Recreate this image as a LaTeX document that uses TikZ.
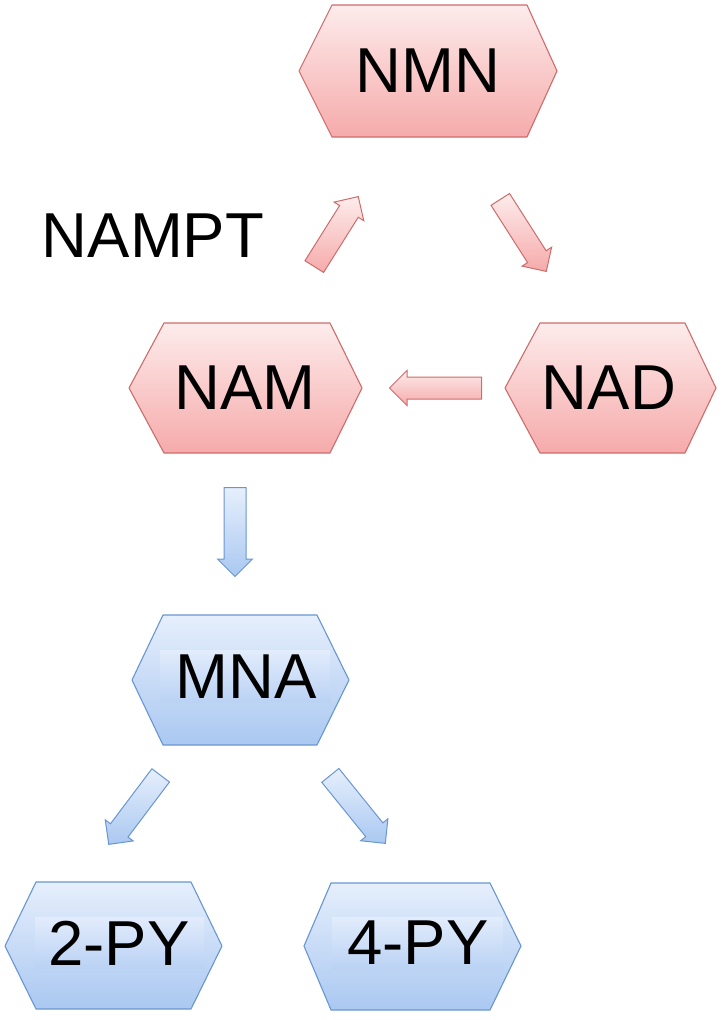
\documentclass[tikz,border=0pt]{standalone}
\usepackage{fontspec}
\setmainfont{Liberation Sans}
\usetikzlibrary{shapes.arrows,calc}
\definecolor{pinkTop}{RGB}{253,236,236}
\definecolor{pinkBot}{RGB}{246,170,170}
\definecolor{pinkLine}{RGB}{205,108,108}
\definecolor{blueTop}{RGB}{230,239,252}
\definecolor{blueBot}{RGB}{170,200,241}
\definecolor{blueLine}{RGB}{105,150,210}
\definecolor{rectTop}{RGB}{226,236,252}
\definecolor{rectBot}{RGB}{186,210,244}
\newcommand{\blockarr}[4]{%
  \path let \p1=(#1), \p2=(#2),
    \n1={atan2(\y2-\y1,\x2-\x1)},
    \n2={veclen(\x2-\x1,\y2-\y1)} in
    node[#3, minimum height=\n2, rotate=\n1, anchor=tail] (#4) at (#1) {};}
\tikzset{
  hexpink/.style={draw=pinkLine, line width=1.1pt, line join=round,
    top color=pinkTop, bottom color=pinkBot},
  hexblue/.style={draw=blueLine, line width=1.1pt, line join=round,
    top color=blueTop, bottom color=blueBot},
  lbl/.style={font=\fontsize{63.5}{70}\selectfont, inner sep=0pt, text=black},
  blkarrow/.style={single arrow, inner xsep=0pt, inner ysep=10.5pt,
    single arrow head extend=6.5pt, single arrow tip angle=90,
    line width=1pt, line join=miter},
  arrpink/.style={blkarrow, draw=pinkLine, top color=pinkTop, bottom color=pinkBot},
  arrblue/.style={blkarrow, draw=blueLine, top color=blueTop, bottom color=blueBot},
  txtrect/.style={top color=rectTop, bottom color=rectBot}
}
\begin{document}
\begin{tikzpicture}[x=1pt, y=-1pt]
\useasboundingbox (0,0) rectangle (722,1020);
% hexagons
\draw[hexpink] (299,71) -- (332,5) -- (527,5) -- (557,71) -- (527,137) -- (332,137) -- cycle;
\draw[hexpink] (129,388) -- (164,323) -- (330,323) -- (362,388) -- (330,453) -- (164,453) -- cycle;
\draw[hexpink] (505,388) -- (540,323) -- (685,323) -- (716,388) -- (685,453) -- (540,453) -- cycle;
\draw[hexblue] (132,680) -- (163,615) -- (317,615) -- (349,680) -- (317,745) -- (163,745) -- cycle;
\draw[hexblue] (5,946) -- (36,882) -- (191,882) -- (222,946) -- (191,1009) -- (36,1009) -- cycle;
\draw[hexblue] (304,946) -- (331,883) -- (490,883) -- (521,946) -- (490,1010) -- (331,1010) -- cycle;
% faint text boxes in blue hexagons
\path[txtrect] (160,650) rectangle (330,702);
\path[txtrect] (35,917) rectangle (204,968);
\path[txtrect] (332,917) rectangle (503,969);
% labels
\node[lbl] (nmn) at (428,71) {NMN};
\node[lbl] (nam) at (245,388) {NAM};
\node[lbl] (nad) at (609,388) {NAD};
\node[lbl] (mna) at (246,677) {MNA};
\node[lbl] (py2) at (119,943) {2-PY};
\node[lbl] (py4) at (418,943) {4-PY};
\node[lbl] (nampt) at (153,236) {NAMPT};
% arrow end points
\coordinate (a1s) at (314,267); \coordinate (a1e) at (358,197);
\coordinate (a2s) at (500,199); \coordinate (a2e) at (546,271);
\coordinate (a3s) at (482,388); \coordinate (a3e) at (390,388);
\coordinate (a4s) at (235,487); \coordinate (a4e) at (235,576);
\coordinate (a5s) at (161,775); \coordinate (a5e) at (109,844);
\coordinate (a6s) at (330,775); \coordinate (a6e) at (385,843);
% block arrows
\blockarr{a1s}{a1e}{arrpink}{arrA}
\blockarr{a2s}{a2e}{arrpink}{arrB}
\blockarr{a3s}{a3e}{arrpink}{arrC}
\blockarr{a4s}{a4e}{arrblue}{arrD}
\blockarr{a5s}{a5e}{arrblue}{arrE}
\blockarr{a6s}{a6e}{arrblue}{arrF}
\end{tikzpicture}
\end{document}
